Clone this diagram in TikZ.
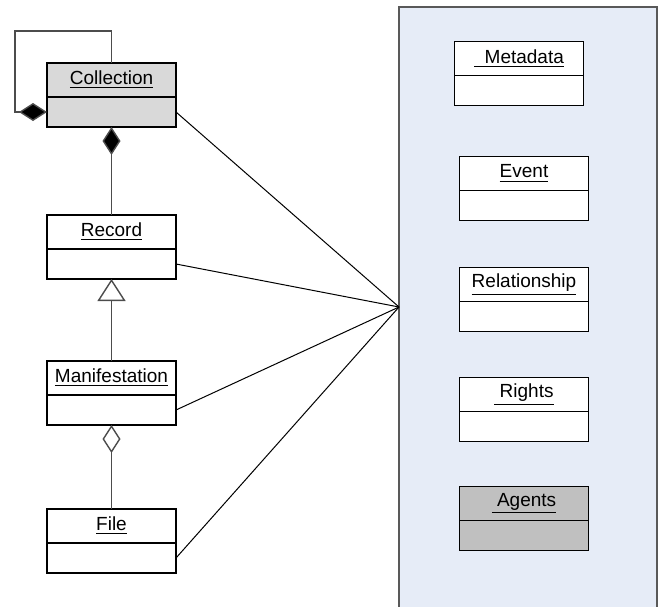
\documentclass[tikz,border=0pt]{standalone}
\usepackage{fontspec}
\setmainfont{Liberation Sans}
\usetikzlibrary{arrows.meta,positioning}
\definecolor{collgray}{HTML}{D9D9D9}
\definecolor{agentgray}{HTML}{C0C0C0}
\definecolor{panelblue}{HTML}{E6ECF7}
\begin{document}
\begin{tikzpicture}[
  x=0.5pt,y=-0.5pt,
  font=\fontsize{9.5}{11}\selectfont,
  clshead/.style={rectangle,draw=black,line width=0.75pt,fill=white,
    minimum width=64.5pt,minimum height=17pt,inner sep=0pt,outer sep=0pt},
  clsattr/.style={clshead,minimum height=15pt},
  panelbox/.style={rectangle,draw=black!65,line width=0.8pt,fill=panelblue,
    inner sep=0pt,outer sep=0pt},
  link/.style={draw=black,line width=0.5pt},
  assoc/.style={draw=black!70,line width=0.7pt},
  compo/.style={assoc,-{Diamond[length=14pt,width=9pt,fill=black]}},
  aggr/.style={assoc,-{Diamond[open,length=14pt,width=9pt,fill=white]}},
  gener/.style={assoc,-{Triangle[open,length=11pt,width=14pt,fill=white]}}
]
\useasboundingbox (0,0) rectangle (659,606);
\clip (0,0) rectangle (659,606);

% ── Painel da direita (aberto embaixo) ───────────────────────────────────────
\node[panelbox,anchor=north west,minimum width=129pt,minimum height=310pt]
  (panel) at (399,7) {};

% ── Classes da coluna esquerda ───────────────────────────────────────────────
\node[clshead,fill=collgray] (coll) at (111.5,80) {\underline{Collection}};
\node[clsattr,fill=collgray,below=0pt of coll] (collA) {};
\node[clshead,below=44pt of collA] (rec) {\underline{Record}};
\node[clsattr,below=0pt of rec] (recA) {};
\node[clshead,below=41pt of recA] (man) {\underline{Manifestation}};
\node[clsattr,below=0pt of man] (manA) {};
\node[clshead,below=42pt of manA] (file) {\underline{File}};
\node[clsattr,below=0pt of file] (fileA) {};

% ── Classes dentro do painel ─────────────────────────────────────────────────
\node[clshead] (meta) at (519,58.5) {\underline{\ \ Metadata}};
\node[clsattr,below=0pt of meta] (metaA) {};
\node[clshead,below=25.5pt of metaA,xshift=2.5pt] (event) {\underline{Event}};
\node[clsattr,below=0pt of event] (eventA) {};
\node[clshead,below=23.5pt of eventA] (rel) {\underline{Relationship}};
\node[clsattr,below=0pt of rel] (relA) {};
\node[clshead,below=23pt of relA] (rights) {\underline{\ Rights}};
\node[clsattr,below=0pt of rights] (rightsA) {};
\node[clshead,fill=agentgray,below=22.5pt of rightsA] (agents) {\underline{\ Agents}};
\node[clsattr,fill=agentgray,below=0pt of agents] (agentsA) {};

% ── Relações ─────────────────────────────────────────────────────────────────
\draw[compo] (coll.north) -- ++(0,16pt) -| ([xshift=-16pt]collA.west) -- (collA.west);
\draw[compo] (rec) -- (collA);
\draw[gener] (man) -- (recA);
\draw[aggr] (file) -- (manA);

% associações convergindo na borda do painel
\coordinate (conv) at (399,307);
\foreach \n in {collA,recA,manA,fileA}
  \draw[link] (\n.east) -- (conv);
\end{tikzpicture}
\end{document}
